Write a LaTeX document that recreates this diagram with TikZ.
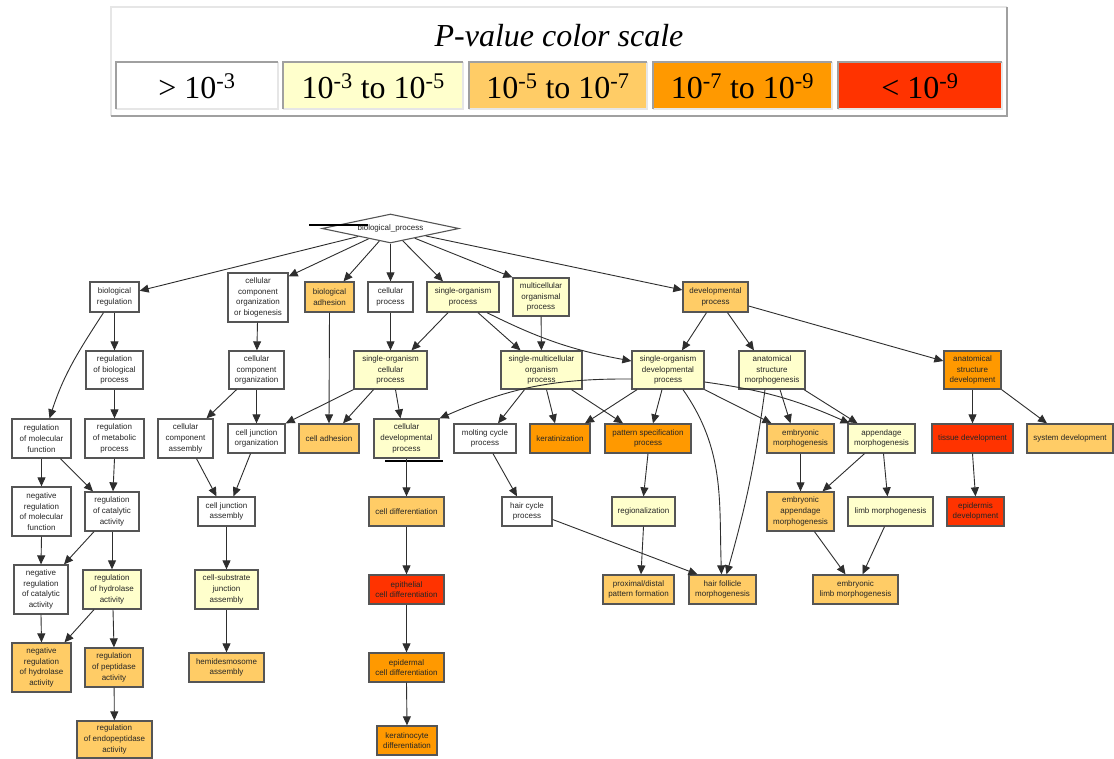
\documentclass[tikz,border=0pt]{standalone}
\usepackage{fontspec}
\setmainfont{Liberation Serif}
\newfontfamily\gosans{Liberation Sans}
\usetikzlibrary{arrows.meta,shapes.geometric}
\definecolor{pw}{HTML}{FFFFFF}
\definecolor{py}{HTML}{FFFFCC}
\definecolor{plo}{HTML}{FFCC66}
\definecolor{po}{HTML}{FF9900}
\definecolor{pr}{HTML}{FF3300}
\definecolor{edgegray}{HTML}{2E2E2E}
\definecolor{boxgray}{HTML}{555555}
\definecolor{legdark}{HTML}{A0A0A0}
\definecolor{leglight}{HTML}{E6E6E6}
\newcommand\gofont{\gosans\fontsize{8}{10.7}\selectfont}
\newcommand\legfont{\fontsize{32}{38}\selectfont}
\tikzset{
  gobox/.style={draw=boxgray, line width=1.3pt, inner sep=0pt, align=center, font=\gofont, text=black!85, rectangle},
  e/.style={draw=edgegray, line width=0.9pt, -{Triangle[length=9pt,width=8pt]}},
  legtext/.style={anchor=base, inner sep=0pt, font=\legfont},
  legcell/.style={inner sep=0pt, minimum width=#1, minimum height=47pt}
}
\newcommand\gon[7]{\node[gobox, fill=#4, minimum width=#5pt, minimum height=#6pt] (#1) at (#2,-#3) {#7};}
\begin{document}
\begin{tikzpicture}[x=1pt,y=1pt]
\useasboundingbox (0,0) rectangle (1114,-758);
\fill[white] (0,0) rectangle (1114,-758);
% ---------------- legend ----------------
\node[inner sep=0pt, minimum width=896pt, minimum height=109pt, fill=white] (legbox) at (559,-61.5) {};
\draw[leglight, line width=2pt] (legbox.south west) -- (legbox.north west) -- (legbox.north east);
\draw[legdark, line width=2pt] (legbox.north east) -- (legbox.south east) -- (legbox.south west);
\node[legtext] (legtitle) at (559,-46.7) {\itshape P-value color scale};
\foreach \nm/\cx/\w/\col in {l1/197/162/pw, l2/373.25/179.5/py, l3/558/178/plo, l4/742.5/179/po, l5/920/164/pr}{
  \node[legcell=\w pt, fill=\col] (\nm) at (\cx,-85.5) {};
  \draw[leglight, line width=2pt] (\nm.south west) -- (\nm.south east) -- (\nm.north east);
  \draw[legdark, line width=2pt] (\nm.south west) -- (\nm.north west) -- (\nm.north east);
}
\node[legtext] (t1) at (197,-98) {> 10\textsuperscript{-3}};
\node[legtext] (t2) at (373.25,-98) {10\textsuperscript{-3} to 10\textsuperscript{-5}};
\node[legtext] (t3) at (558,-98) {10\textsuperscript{-5} to 10\textsuperscript{-7}};
\node[legtext] (t4) at (742.5,-98) {10\textsuperscript{-7} to 10\textsuperscript{-9}};
\node[legtext] (t5) at (920,-98) {< 10\textsuperscript{-9}};
% ---------------- graph nodes ----------------
\node[draw=boxgray, line width=1.1pt, shape=diamond, aspect=4.7, inner sep=0pt, minimum width=137pt, minimum height=29pt, fill=white, font=\gofont, text=black!85] (bp) at (390.5,-228.5) {biological\_process};
% row 1
\gon{breg}{114.5}{297}{pw}{49}{30}{biological\\regulation}
\gon{cccob}{258}{297.5}{pw}{60}{49}{cellular\\component\\organization\\or biogenesis}
\gon{badh}{329.5}{297}{plo}{49}{30}{biological\\adhesion}
\gon{cp}{390.5}{297}{pw}{45}{30}{cellular\\process}
\gon{sop}{463}{297}{py}{72}{30}{single-organism\\process}
\gon{mop}{541}{297}{py}{56}{38}{multicellular\\organismal\\process}
\gon{dp}{715.5}{297}{plo}{65}{30}{developmental\\process}
% row 2
\gon{rbp}{114.5}{370}{pw}{57}{38}{regulation\\of biological\\process}
\gon{cco}{256.5}{370}{pw}{55}{38}{cellular\\component\\organization}
\gon{socp}{390.5}{370}{py}{73}{38}{single-organism\\cellular\\process}
\gon{smop}{541.5}{370}{py}{81}{38}{single-multicellular\\organism\\process}
\gon{sodp}{668}{370}{py}{72}{38}{single-organism\\developmental\\process}
\gon{asm}{772}{370}{py}{66}{38}{anatomical\\structure\\morphogenesis}
\gon{asd}{972.5}{370}{po}{57}{38}{anatomical\\structure\\development}
% row 3
\gon{rmf}{41.5}{438.5}{pw}{59}{39}{regulation\\of molecular\\function}
\gon{rmp}{114.5}{438.5}{pw}{59}{39}{regulation\\of metabolic\\process}
\gon{cca}{185.5}{438.5}{pw}{55}{39}{cellular\\component\\assembly}
\gon{cjo}{256.5}{438.5}{pw}{57}{29}{cell junction\\organization}
\gon{cadh}{329}{438.5}{plo}{60}{29}{cell adhesion}
\gon{cdp}{406.5}{438.5}{py}{65}{39}{cellular\\developmental\\process}
\gon{mcp}{485}{438.5}{pw}{62}{29}{molting cycle\\process}
\gon{ker}{560}{438.5}{po}{60}{29}{keratinization}
\gon{psp}{648}{438.5}{po}{86}{29}{pattern specification\\process}
\gon{em}{800.5}{438.5}{plo}{67}{29}{embryonic\\morphogenesis}
\gon{appm}{881.5}{438.5}{py}{67}{29}{appendage\\morphogenesis}
\gon{td}{972.5}{438.5}{pr}{81}{29}{tissue development}
\gon{sd}{1070}{438.5}{plo}{86}{29}{system development}
% row 4
\gon{nrmf}{41.5}{511.5}{pw}{59}{49}{negative\\regulation\\of molecular\\function}
\gon{rca}{112}{511.5}{pw}{54}{39}{regulation\\of catalytic\\activity}
\gon{cja}{226.5}{511.5}{pw}{57}{29}{cell junction\\assembly}
\gon{cd}{406.5}{511.5}{plo}{75}{29}{cell differentiation}
\gon{hcp}{527}{511.5}{pw}{50}{29}{hair cycle\\process}
\gon{reg}{643.5}{511.5}{py}{63}{29}{regionalization}
\gon{eam}{800.5}{511.5}{plo}{67}{39}{embryonic\\appendage\\morphogenesis}
\gon{lm}{890.5}{511.5}{py}{85}{29}{limb morphogenesis}
\gon{ed}{975.5}{511.5}{pr}{57}{29}{epidermis\\development}
% row 5
\gon{nrca}{41}{589.5}{pw}{54}{49}{negative\\regulation\\of catalytic\\activity}
\gon{rha}{112}{589.5}{py}{58}{39}{regulation\\of hydrolase\\activity}
\gon{csja}{226.5}{589.5}{py}{63}{39}{cell-substrate\\junction\\assembly}
\gon{ecd}{406.5}{589.5}{pr}{75}{29}{epithelial\\cell differentiation}
\gon{pdpf}{638.5}{589.5}{plo}{71}{29}{proximal/distal\\pattern formation}
\gon{hfm}{722.5}{589.5}{plo}{67}{29}{hair follicle\\morphogenesis}
\gon{elm}{855.5}{589.5}{plo}{85}{29}{embryonic\\limb morphogenesis}
% row 6
\gon{nrha}{41.5}{667.5}{plo}{59}{49}{negative\\regulation\\of hydrolase\\activity}
\gon{rpa}{114}{667.5}{plo}{58}{39}{regulation\\of peptidase\\activity}
\gon{hda}{226.5}{667.5}{plo}{75}{29}{hemidesmosome\\assembly}
\gon{edc}{406.5}{667.5}{po}{75}{29}{epidermal\\cell differentiation}
% row 7
\gon{repa}{114.5}{739.5}{plo}{75}{37}{regulation\\of endopeptidase\\activity}
\gon{kd}{407}{740.5}{po}{60}{29}{keratinocyte\\differentiation}
% black marks
\draw[black, line width=2pt] (309,-225) -- (368,-225);
\draw[black, line width=2pt] (385,-461) -- (443,-461);
% ---------------- edges ----------------
\draw[e] (bp) -- (breg);
\draw[e] (bp) -- ([yshift=-4pt]cccob.north east);
\draw[e] (bp) -- ([xshift=14pt]badh.north);
\draw[e] (bp) -- (cp);
\draw[e] (bp) -- ([xshift=-20pt]sop.north);
\draw[e] (bp) -- (mop.north west);
\draw[e] (bp) -- ([yshift=7pt]dp.west);
% left column
\draw[e] (breg) -- (rbp);
\draw[e] ([xshift=-11pt]breg.south) to[out=-123,in=72] ([xshift=8pt]rmf.north);
\draw[e] (rbp) -- (rmp);
\draw[e] (rmf) -- (nrmf);
\draw[e] ([xshift=19pt]rmf.south) -- ([xshift=-19pt]rca.north);
\draw[e] (rmp.south) -- ([xshift=1pt]rca.north);
\draw[e] (nrmf.south) -- (nrca.north);
\draw[e] ([xshift=-18pt]rca.south) -- ([xshift=23pt]nrca.north);
\draw[e] (rca) -- (rha);
\draw[e] (nrca.south) -- (nrha.north);
\draw[e] ([xshift=-18pt]rha.south) -- ([xshift=23pt]nrha.north);
\draw[e] ([xshift=1pt]rha.south) -- (rpa.north);
\draw[e] (rpa) -- (repa);
% cellular component branch
\draw[e] (cccob) -- (cco);
\draw[e] ([xshift=-20pt]cco.south) -- ([xshift=21pt]cca.north);
\draw[e] (cco.south) -- (cjo.north);
\draw[e] (socp.south west) -- (cjo.north east);
\draw[e] ([xshift=11pt]cca.south) -- ([xshift=-10pt]cja.north);
\draw[e] ([xshift=-6pt]cjo.south) -- ([xshift=7pt]cja.north);
\draw[e] (cja) -- (csja);
\draw[e] (csja) -- (hda);
% middle
\draw[e] (badh.south) -- (cadh.north);
\draw[e] ([xshift=-17pt]socp.south) -- ([xshift=14pt]cadh.north);
\draw[e] (cp) -- (socp);
\draw[e] ([xshift=-15pt]sop.south) -- ([xshift=21pt]socp.north);
\draw[e] ([xshift=15pt]sop.south) -- ([xshift=-21pt]smop.north);
\draw[e] ([xshift=24pt]sop.south) to[bend right=8] ([yshift=9pt]sodp.west);
\draw[e] (mop) -- (smop);
\draw[e] ([xshift=-9pt]dp.south) -- ([xshift=14pt]sodp.north);
\draw[e] ([xshift=12pt]dp.south) -- ([xshift=-18pt]asm.north);
\draw[e] ([yshift=-9pt]dp.east) -- ([yshift=9pt]asd.west);
\draw[e] ([xshift=5pt]socp.south) -- ([xshift=-6pt]cdp.north);
\draw[e] ([yshift=-9pt]sodp.west) to[bend right=12] (cdp.north east);
\draw[e] ([xshift=-17pt]smop.south) -- ([xshift=13pt]mcp.north);
\draw[e] ([xshift=5pt]smop.south) -- ([xshift=-5pt]ker.north);
\draw[e] ([xshift=30pt]smop.south) -- ([xshift=-25pt]psp.north);
\draw[e] ([xshift=-31pt]sodp.south) -- ([xshift=25pt]ker.north);
\draw[e] ([xshift=-6pt]sodp.south) -- ([xshift=5pt]psp.north);
\draw[e] ([xshift=15pt]sodp.south) to[out=-55,in=92] ([xshift=-1pt]hfm.north);
\draw[e] (sodp.south east) -- ([xshift=-29pt]em.north);
\draw[e] ([yshift=-12pt]sodp.east) to[bend left=8] ([xshift=-32pt]appm.north);
\draw[e] ([xshift=-7pt]asm.south) to[bend left=4] ([xshift=4pt]hfm.north);
\draw[e] ([xshift=8pt]asm.south) -- ([xshift=-10pt]em.north);
\draw[e] ([xshift=32pt]asm.south) -- ([xshift=-24pt]appm.north);
\draw[e] (asd) -- (td);
\draw[e] (asd.south east) -- ([xshift=-23pt]sd.north);
\draw[e] (td.south) -- (ed.north);
\draw[e] (cdp) -- (cd);
\draw[e] (cd) -- (ecd);
\draw[e] (ecd) -- (edc);
\draw[e] (edc.south) -- (kd.north);
\draw[e] ([xshift=8pt]mcp.south) -- ([xshift=-10pt]hcp.north);
\draw[e] ([yshift=-8pt]hcp.east) -- ([xshift=-25pt]hfm.north);
\draw[e] (psp.south) -- (reg.north);
\draw[e] (reg.south) -- ([xshift=2.5pt]pdpf.north);
\draw[e] (em) -- (eam);
\draw[e] ([xshift=-17pt]appm.south) -- ([xshift=22pt]eam.north);
\draw[e] ([xshift=2pt]appm.south) -- ([xshift=-3pt]lm.north);
\draw[e] ([xshift=14pt]eam.south) -- ([xshift=-10pt]elm.north);
\draw[e] ([xshift=-6pt]lm.south) -- ([xshift=7pt]elm.north);
\end{tikzpicture}
\end{document}
